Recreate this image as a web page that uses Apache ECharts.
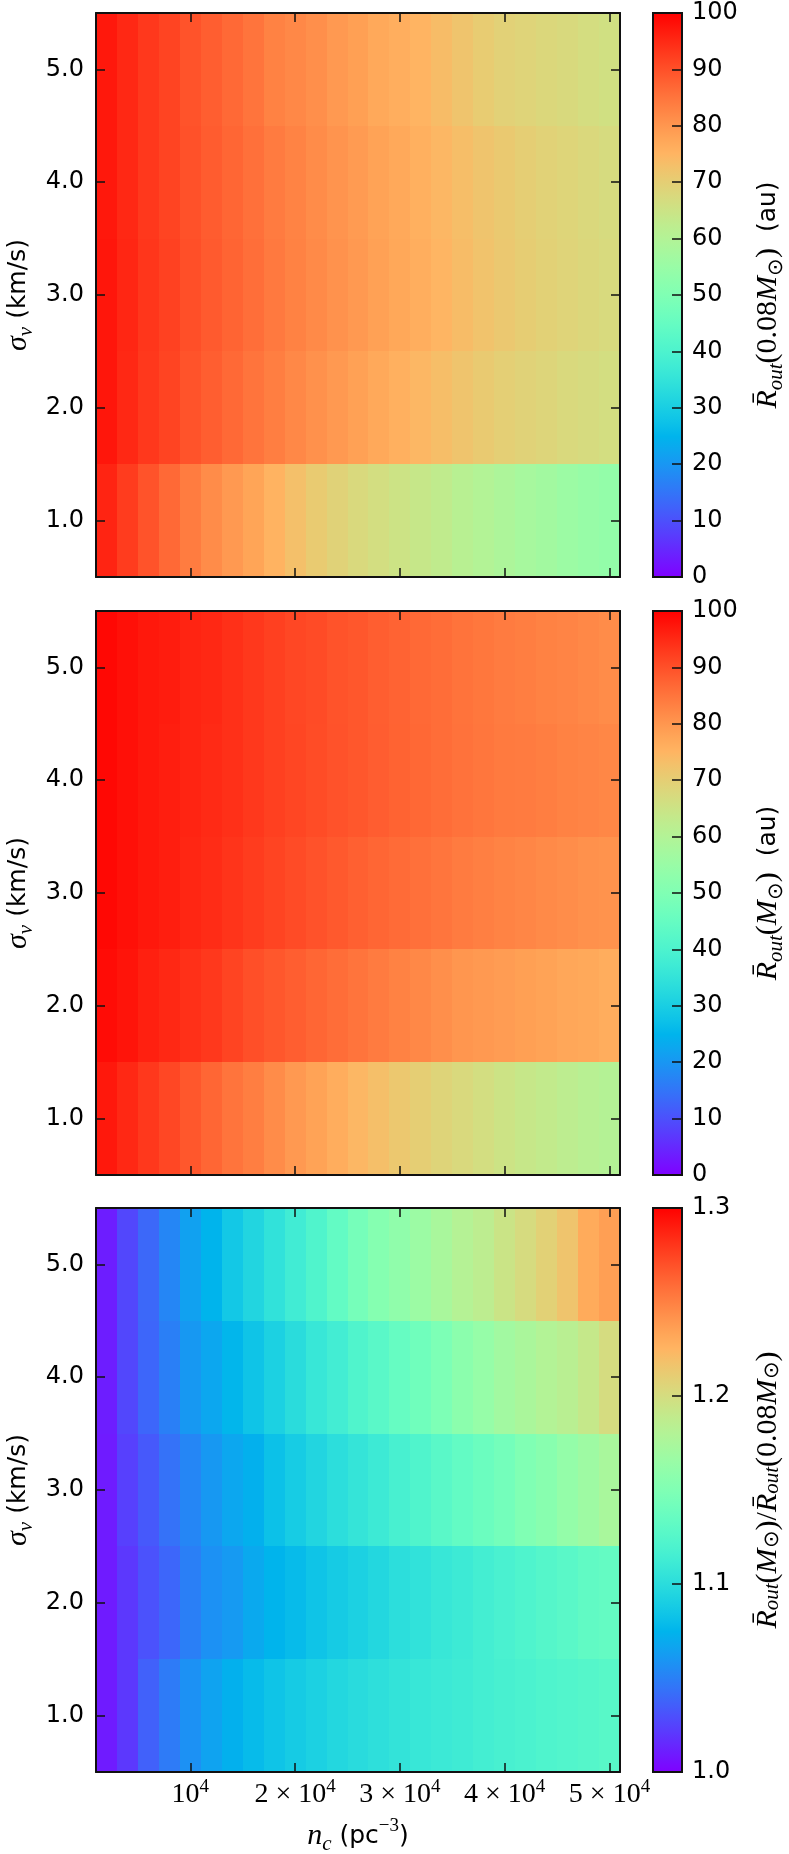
<!DOCTYPE html>
<html>
<head>
<meta charset="utf-8">
<script src="https://cdn.jsdelivr.net/npm/echarts@6/dist/echarts.min.js"></script>
<style>
  html, body { margin: 0; padding: 0; background: #fff; }
  #chart { width: 789px; height: 1854px; }
</style>
</head>
<body>
<div id="chart"></div>
<script>
// cluster density n_c (pc^-3), column centres
const ncList = [2000, 4000, 6000, 8000, 10000, 12000, 14000, 16000, 18000, 20000, 22000, 24000, 26000,
  28000, 30000, 32000, 34000, 36000, 38000, 40000, 42000, 44000, 46000, 48000, 50000]
// velocity dispersion sigma_v (km/s), rows
const sigmaList = [1, 2, 3, 4, 5]

const xTickValues = [10000, 20000, 30000, 40000, 50000]
const yTickValues = [1, 2, 3, 4, 5]
const auTicks = [0, 10, 20, 30, 40, 50, 60, 70, 80, 90, 100]
const ratioTicks = [1.0, 1.1, 1.2, 1.3]

// panel 1: R_out(0.08 Msun) in au
const r008_sig1 = [95.5, 92.5, 89.5, 86.5, 83.8, 81.5, 79.5, 77.7, 75.2, 72.8, 70.7, 69, 67.5, 66.3, 65, 63.8, 62.7, 61.1, 60, 58.8, 57.6, 56.8, 55.6, 54.6, 53.8]
const r008_sig2 = [97.2, 95, 93, 91.5, 89.5, 88, 86.5, 85, 83.5, 82, 80.8, 79.5, 78.3, 77, 75.8, 74.5, 73.2, 72, 70.8, 69.8, 69, 68.3, 67.6, 67, 66.3]
const r008_sig3 = [97.3, 95.2, 93.2, 91.8, 90, 88.5, 87.2, 85.8, 84.3, 83, 81.8, 80.6, 79.5, 78.3, 77.2, 76, 74.8, 73.5, 72.3, 71.2, 70.2, 69.4, 68.7, 68, 67.3]
const r008_sig4 = [97, 95, 93, 91.5, 89.8, 88.3, 87, 85.5, 84, 82.8, 81.5, 80.3, 79.2, 78, 77, 75.8, 74.5, 73.3, 72, 71, 70, 69.2, 68.5, 67.8, 67]
const r008_sig5 = [97, 95, 93, 91.5, 89.5, 88, 86.5, 85, 83, 82, 81, 79.5, 78.5, 77, 76, 75, 73.5, 72, 70.5, 69.3, 68.7, 68, 67.4, 66.6, 65.8]

// panel 2: R_out(1 Msun) in au
const r1_sig1 = [97, 95, 93, 91, 89, 87, 85, 83.5, 81.5, 79.5, 78, 76.3, 74.5, 73, 71.3, 70, 68.6, 67.5, 66.3, 65, 63.8, 63, 62, 61, 60.3]
const r1_sig2 = [98.5, 97.5, 96, 95, 94, 93, 91.5, 90, 89, 88, 87, 86, 85, 84, 83, 82, 81, 80, 79.5, 79, 78.5, 78, 77.3, 77, 76.3]
const r1_sig3 = [99, 98, 97, 96.3, 95.3, 94.5, 93.5, 92.5, 91.5, 90.5, 89.6, 88.7, 87.8, 87, 86.2, 85.5, 84.8, 84, 83.4, 82.8, 82.3, 81.8, 81.3, 80.8, 80.4]
const r1_sig4 = [99, 98, 97, 96.3, 95.5, 94.8, 94, 93, 92, 91.2, 90.4, 89.6, 88.9, 88.1, 87.4, 86.7, 86, 85.3, 84.7, 84.1, 84, 83.5, 83, 82.6, 82.2]
const r1_sig5 = [99, 98, 97, 96.5, 95.5, 95, 94, 93, 92, 91, 90.5, 89.5, 89, 88, 87.3, 86.5, 86, 85.2, 84.6, 84, 83.5, 83, 82.6, 82, 81.5]

// panel 3: ratio R_out(1 Msun) / R_out(0.08 Msun)
const ratio_sig1 = [1.010, 1.021, 1.037, 1.048, 1.058, 1.066, 1.073, 1.079, 1.084, 1.088, 1.092, 1.096, 1.099, 1.102, 1.105, 1.108, 1.110, 1.112, 1.115, 1.117, 1.119, 1.121, 1.123, 1.125, 1.127]
const ratio_sig2 = [1.010, 1.021, 1.031, 1.039, 1.050, 1.058, 1.062, 1.069, 1.075, 1.079, 1.084, 1.088, 1.092, 1.096, 1.101, 1.104, 1.108, 1.111, 1.115, 1.118, 1.121, 1.125, 1.128, 1.132, 1.134]
const ratio_sig3 = [1.010, 1.024, 1.034, 1.044, 1.053, 1.061, 1.068, 1.073, 1.082, 1.089, 1.095, 1.101, 1.106, 1.111, 1.117, 1.122, 1.128, 1.133, 1.138, 1.143, 1.150, 1.155, 1.162, 1.168, 1.174]
const ratio_sig4 = [1.011, 1.027, 1.039, 1.050, 1.061, 1.068, 1.076, 1.084, 1.092, 1.100, 1.108, 1.114, 1.122, 1.128, 1.135, 1.141, 1.148, 1.157, 1.163, 1.170, 1.175, 1.180, 1.184, 1.191, 1.200]
const ratio_sig5 = [1.011, 1.027, 1.040, 1.053, 1.065, 1.075, 1.086, 1.095, 1.104, 1.113, 1.122, 1.133, 1.144, 1.153, 1.160, 1.167, 1.174, 1.181, 1.186, 1.194, 1.201, 1.208, 1.216, 1.230, 1.236]

const panelRows = [
  [r008_sig1, r008_sig2, r008_sig3, r008_sig4, r008_sig5],
  [r1_sig1, r1_sig2, r1_sig3, r1_sig4, r1_sig5],
  [ratio_sig1, ratio_sig2, ratio_sig3, ratio_sig4, ratio_sig5]
]
const panelRange = [[0, 100], [0, 100], [1.0, 1.3]]

// matplotlib "rainbow" colormap
function rainbow(t) {
  const r = Math.min(1, Math.abs(2 * t - 0.5))
  const g = Math.sin(Math.PI * t)
  const b = Math.cos(Math.PI * t / 2)
  return 'rgb(' + [r, g, b].map(v => Math.round(Math.max(0, v) * 255)).join(',') + ')'
}
const rainbowColors = []
for (let i = 0; i <= 40; i++) rainbowColors.push(rainbow(i / 40))
const barStops = rainbowColors.map((c, i) => ({ offset: 1 - i / 40, color: c }))

var chartDom = document.getElementById('chart')
var myChart = echarts.init(chartDom)

const tops = [13, 611, 1208]
const plotH = 564
const plotLeft = 96
const plotW = 524
const barLeft = 653
const barW = 29
const halfW = (ncList[1] - ncList[0]) / 2

const sansFont = 'DejaVu Sans'
const serifFont = 'Liberation Serif'
const lineColor = '#111'

const grids = []
const xAxes = []
const yAxes = []
const series = []
const visualMaps = []

const tickStyle = { show: true, inside: true, length: 9, lineStyle: { color: lineColor, width: 1.5 } }
const frameLine = { show: true, onZero: false, lineStyle: { color: lineColor, width: 2 } }

tops.forEach((top, i) => {
  grids.push({ left: plotLeft, top: top, width: plotW, height: plotH })
  const lastPanel = i === 2
  ;['bottom', 'top'].forEach(pos => {
    xAxes.push({
      type: 'value', gridIndex: i, position: pos, min: ncList[0] - halfW, max: ncList[ncList.length - 1] + halfW,
      z: 5, axisLine: frameLine, splitLine: { show: false },
      axisTick: Object.assign({}, tickStyle, { customValues: xTickValues }),
      axisLabel: {
        show: lastPanel && pos === 'bottom', customValues: xTickValues, margin: 6,
        formatter: v => v === 10000 ? '{m|10}{s|4}' : '{m|' + (v / 10000) + ' × 10}{s|4}',
        rich: {
          m: { fontFamily: serifFont, fontSize: 28, color: '#000', lineHeight: 34 },
          s: { fontFamily: serifFont, fontSize: 19, color: '#000', lineHeight: 19, verticalAlign: 'top' }
        }
      }
    })
  })
  ;['left', 'right'].forEach(pos => {
    yAxes.push({
      type: 'value', gridIndex: i, position: pos, min: 0.5, max: 5.5,
      z: 5, axisLine: frameLine, splitLine: { show: false },
      axisTick: Object.assign({}, tickStyle, { customValues: yTickValues }),
      axisLabel: {
        show: pos === 'left', customValues: yTickValues, margin: 12,
        fontFamily: sansFont, fontSize: 24, color: '#000',
        formatter: v => v.toFixed(1)
      }
    })
  })
})

tops.forEach((top, i) => {
  grids.push({ left: barLeft, top: top, width: barW, height: plotH })
  const range = panelRange[i]
  xAxes.push({ type: 'value', gridIndex: 3 + i, min: 0, max: 1, show: false })
  yAxes.push({
    type: 'value', gridIndex: 3 + i, position: 'right', min: range[0], max: range[1], z: 5,
    axisLine: { show: false, onZero: false }, splitLine: { show: false },
    axisTick: Object.assign({}, tickStyle, { length: 10, customValues: i === 2 ? ratioTicks : auTicks }),
    axisLabel: {
      customValues: i === 2 ? ratioTicks : auTicks, margin: 10,
      fontFamily: sansFont, fontSize: 24, color: '#000',
      formatter: v => i === 2 ? v.toFixed(1) : String(v)
    }
  })
})

// heatmap cells
panelRows.forEach((rows, i) => {
  const data = []
  rows.forEach((vals, r) => {
    vals.forEach((v, c) => data.push([ncList[c], sigmaList[r], v]))
  })
  series.push({
    type: 'custom', xAxisIndex: 2 * i, yAxisIndex: 2 * i, z: 2,
    data: data,
    renderItem: (params, api) => {
      const x = api.value(0)
      const y = api.value(1)
      const p0 = api.coord([x - halfW, y + 0.5])
      const p1 = api.coord([x + halfW, y - 0.5])
      const x0 = Math.round(p0[0]), y0 = Math.round(p0[1])
      const x1 = Math.round(p1[0]), y1 = Math.round(p1[1])
      return {
        type: 'rect',
        shape: { x: x0, y: y0, width: x1 - x0, height: y1 - y0 },
        style: { fill: api.visual('color') }
      }
    }
  })
  visualMaps.push({
    type: 'continuous', show: false, seriesIndex: i, dimension: 2,
    min: panelRange[i][0], max: panelRange[i][1],
    inRange: { color: rainbowColors }
  })
})

// colour bars
panelRange.forEach((range, i) => {
  series.push({
    type: 'custom', xAxisIndex: 6 + i, yAxisIndex: 6 + i, z: 2,
    data: [[0, range[0]]],
    renderItem: (params, api) => {
      const p0 = api.coord([0, range[1]])
      const p1 = api.coord([1, range[0]])
      return {
        type: 'rect',
        shape: { x: p0[0], y: p0[1], width: p1[0] - p0[0], height: p1[1] - p0[1] },
        style: {
          fill: { type: 'linear', x: 0, y: 0, x2: 0, y2: 1, colorStops: barStops },
          stroke: lineColor, lineWidth: 2
        }
      }
    }
  })
})

const mathRich = {
  i: { fontFamily: serifFont, fontStyle: 'italic', fontSize: 30, color: '#000' },
  n: { fontFamily: serifFont, fontSize: 30, color: '#000' },
  sub: { fontFamily: serifFont, fontStyle: 'italic', fontSize: 21, color: '#000', verticalAlign: 'bottom', lineHeight: 21 },
  subn: { fontFamily: serifFont, fontSize: 21, color: '#000', verticalAlign: 'bottom', lineHeight: 21 },
  sup: { fontFamily: serifFont, fontSize: 19, color: '#000', verticalAlign: 'top', lineHeight: 19 },
  t: { fontFamily: sansFont, fontSize: 25, color: '#000', lineHeight: 38 }
}

const graphics = []
tops.forEach(top => {
  graphics.push({
    type: 'text', x: 18, y: top + plotH / 2, rotation: Math.PI / 2,
    style: { text: '{i|σ}{sub|v}{t| (km/s)}', rich: mathRich, align: 'center', verticalAlign: 'middle' }
  })
})
const barTitles = [
  '{i|R̄}{sub|out}{n|(0.08}{i|M}{subn|⊙}{n|)}{t|  (au)}',
  '{i|R̄}{sub|out}{n|(}{i|M}{subn|⊙}{n|)}{t|  (au)}',
  '{i|R̄}{sub|out}{n|(}{i|M}{subn|⊙}{n|)/}{i|R̄}{sub|out}{n|(0.08}{i|M}{subn|⊙}{n|)}'
]
barTitles.forEach((txt, i) => {
  graphics.push({
    type: 'text', x: 768, y: tops[i] + plotH / 2, rotation: Math.PI / 2,
    style: { text: txt, rich: mathRich, align: 'center', verticalAlign: 'middle' }
  })
})
graphics.push({
  type: 'text', x: plotLeft + plotW / 2, y: 1836,
  style: { text: '{i|n}{sub|c}{t| (pc}{sup|−3}{t|)}', rich: mathRich, align: 'center', verticalAlign: 'middle' }
})

var option = {
  animation: false,
  backgroundColor: '#fff',
  grid: grids,
  xAxis: xAxes,
  yAxis: yAxes,
  visualMap: visualMaps,
  series: series,
  graphic: graphics
}

option && myChart.setOption(option)
</script>
</body>
</html>
